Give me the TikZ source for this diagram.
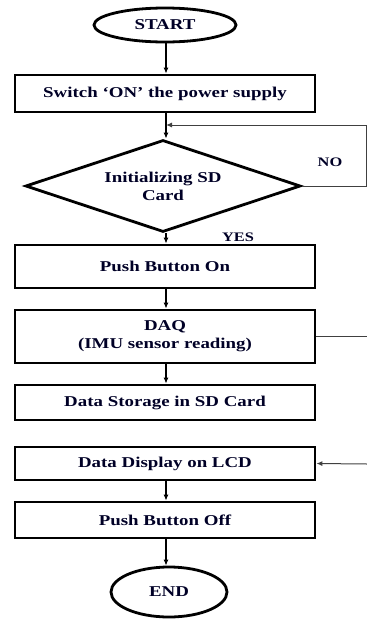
\documentclass[tikz,border=0pt]{standalone}
\usepackage{fontspec}
\setmainfont{Liberation Serif}[FakeStretch=1.26]
\usetikzlibrary{shapes.geometric,arrows.meta}

\tikzset{
  flowtxt/.style={font=\fontsize{15}{18}\selectfont\bfseries, text=black!85!blue, align=center, inner sep=0pt},
  stepbox/.style={flowtxt, draw=black, line width=2.8pt, rectangle, minimum width=300pt},
  termin/.style={flowtxt, draw=black, line width=2.8pt, ellipse},
  decide/.style={flowtxt, draw=black, line width=2.8pt, diamond, aspect=3, minimum width=275pt, minimum height=92pt},
  arr/.style={-{Latex[length=6pt,width=5pt]}, line width=1.1pt, black},
  loopline/.style={line width=1pt, black!75},
  looparr/.style={loopline, -{Latex[length=6pt,width=5pt]}},
  lbl/.style={font=\fontsize{13}{15}\selectfont\bfseries, text=black!85!blue, inner sep=0pt}
}

\begin{document}
\begin{tikzpicture}[x=1pt,y=-1pt]
\useasboundingbox (0,0) rectangle (367,619);

% process chain
\node[termin, minimum width=142pt, minimum height=34pt] (start) at (165,25) {START};
\node[stepbox, minimum height=37pt] (sw) at (165,93.5) {Switch ‘ON’ the power supply};
\node[decide] (init) at (163,186) {Initializing SD\\Card};
\node[stepbox, minimum height=43pt] (pbon) at (165,266.5) {Push Button On};
\node[stepbox, minimum height=53pt] (daq) at (165,336.5) {DAQ\\(IMU sensor reading)};
\node[stepbox, minimum height=35pt] (store) at (165,402.5) {Data Storage in SD Card};
\node[stepbox, minimum height=33pt] (disp) at (165,463.5) {Data Display on LCD};
\node[stepbox, minimum height=36pt] (pboff) at (165,520) {Push Button Off};
\node[termin, minimum width=116pt, minimum height=50pt] (stop) at (169,592) {END};

% labels of the decision
\node[lbl] (no) at (330,162) {NO};
\node[lbl] (yes) at (238,237) {YES};

% helper points
\coordinate (join) at (166,125);
\coordinate (corner) at (366,186);
\coordinate (daqout) at (367,336.5);
\coordinate (dispin) at (367,464);

% main arrows
\draw[arr] (start.south -| 166,0) -- (sw.north -| 166,0);
\draw[arr] (sw.south -| 166,0) -- (init.north -| 166,0);
\draw[arr] (init.south -| 166,0) -- (pbon.north -| 166,0);
\draw[arr] (pbon.south -| 166,0) -- (daq.north -| 166,0);
\draw[arr] (daq.south -| 166,0) -- (store.north -| 166,0);
\draw[arr] (disp.south -| 166,0) -- (pboff.north -| 166,0);
\draw[arr] (pboff.south -| 166,0) -- (stop.north -| 166,0);

% retry loop and side connectors
\draw[looparr] (init.east) -- (corner) |- (join);
\draw[loopline] (daq.east) -- (daqout);
\draw[looparr] (dispin) -- (disp.east);
\end{tikzpicture}
\end{document}
